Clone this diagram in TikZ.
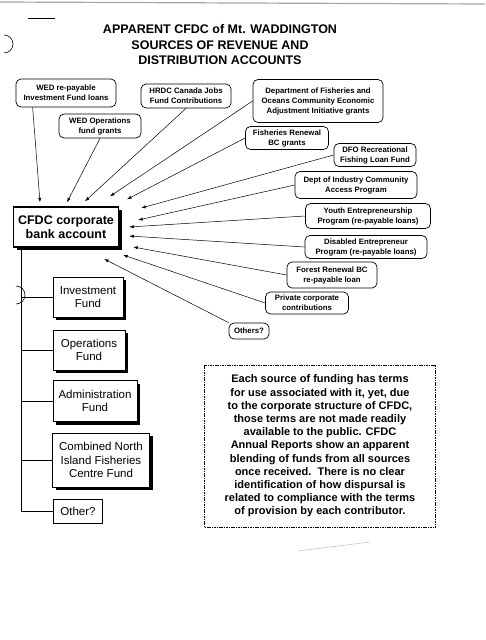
\documentclass[tikz,border=0pt]{standalone}
\usepackage{fontspec}
\setmainfont{Liberation Sans}
\usetikzlibrary{arrows.meta,calc,shadows}

\begin{document}
\begin{tikzpicture}[x=1pt,y=-1pt,>={Latex[length=4.5pt,width=3.2pt]},
  src/.style={draw,rounded corners=5pt,line width=0.7pt,align=center,inner sep=1pt,font=\bfseries\fontsize{7.8}{10}\selectfont},
  fund/.style={draw,line width=0.6pt,align=center,inner sep=2pt,fill=white,font=\fontsize{11.5}{13.5}\selectfont,drop shadow={shadow xshift=3pt,shadow yshift=-3pt,fill=black,opacity=1}},
  feed/.style={->,line width=0.5pt},
  branch/.style={line width=0.5pt}]
\fill[white] (0,0) rectangle (485,640);
\useasboundingbox (0,0) rectangle (485,640);
% scan marks
\draw[gray!70,line width=1.2pt] (0,2) -- (485,4);
\draw[line width=0.9pt] (28,18) -- (55,18);
\draw[line width=0.6pt] (4,53) arc[start angle=90,end angle=-90,radius=9];
\draw[line width=0.6pt] (16,304) arc[start angle=90,end angle=-90,radius=9];
\draw[gray!60,line width=0.4pt] (298,551) -- (370,542);
% title
\node[align=center,font=\bfseries\fontsize{12.5}{15.5}\selectfont] (title) at (220,45) {APPARENT CFDC of Mt. WADDINGTON\\SOURCES OF REVENUE AND\\DISTRIBUTION ACCOUNTS};
% sources
\node[src,minimum width=100pt,minimum height=28pt] (wedloan) at (66,93) {WED re-payable\\Investment Fund loans};
\node[src,minimum width=90pt,minimum height=24pt] (hrdc) at (186,96) {HRDC Canada Jobs\\Fund Contributions};
\node[src,minimum width=130pt,minimum height=43pt] (dfoecon) at (318,101) {Department of Fisheries and\\Oceans Community Economic\\Adjustment Initiative grants};
\node[src,minimum width=82pt,minimum height=24pt] (wedops) at (100,126) {WED Operations\\fund grants};
\node[src,minimum width=83pt,minimum height=23pt] (fishren) at (287,138) {Fisheries Renewal\\BC grants};
\node[src,minimum width=82pt,minimum height=23pt] (dforec) at (375,155) {DFO Recreational\\Fishing Loan Fund};
\node[src,minimum width=122pt,minimum height=27pt] (industry) at (356,185) {Dept of Industry Community\\Access Program};
\node[src,minimum width=125pt,minimum height=25pt] (youth) at (368,216) {Youth Entrepreneurship\\Program (re-payable loans)};
\node[src,minimum width=122pt,minimum height=23pt] (disabled) at (366,247) {Disabled Entrepreneur\\Program (re-payable loans)};
\node[src,minimum width=90pt,minimum height=26pt] (forest) at (332,275) {Forest Renewal BC\\re-payable loan};
\node[src,minimum width=83pt,minimum height=22pt] (private) at (307,303) {Private corporate\\contributions};
\node[src,minimum width=40pt,minimum height=16pt] (others) at (249,331) {Others?};
% bank account
\node[draw,line width=1.4pt,fill=white,align=center,minimum width=105pt,minimum height=40pt,font=\bfseries\fontsize{12.5}{14}\selectfont,drop shadow={shadow xshift=3pt,shadow yshift=-3pt,fill=black,opacity=1}] (bank) at (66,227) {CFDC corporate\\bank account};
% funds
\node[fund,minimum width=70pt,minimum height=40pt] (invest) at (88,297) {Investment\\Fund};
\node[fund,minimum width=72pt,minimum height=40pt] (ops) at (89,350) {Operations\\Fund};
\node[fund,minimum width=84pt,minimum height=41pt] (admin) at (95,401) {Administration\\Fund};
\node[fund,minimum width=97pt,minimum height=54pt] (combined) at (101,460) {Combined North\\Island Fisheries\\Centre Fund};
\node[draw,line width=0.6pt,inner sep=2pt,minimum width=49pt,minimum height=24pt,font=\fontsize{11.5}{13.5}\selectfont] (other) at (78,511) {Other?};
% note
\node[draw,line width=0.9pt,dash pattern=on 1.6pt off 0.8pt,align=center,minimum width=231pt,minimum height=162pt,font=\bfseries\fontsize{11}{13.2}\selectfont] (note) at (320,446) {Each source of funding has terms\\for use associated with it, yet, due\\to the corporate structure of CFDC,\\those terms are not made readily\\available to the public. CFDC\\Annual Reports show an apparent\\blending of funds from all sources\\once received.\ \ There is no clear\\identification of how dispursal is\\related to compliance with the terms\\of provision by each contributor.};
% flows into the bank account
\draw[feed] ($(wedloan.south west)+(17,0)$) -- ($(bank.north)+(-26,-4)$);
\draw[feed] (wedops.south) -- ($(bank.north)+(1,-4)$);
\draw[feed] (hrdc.south) -- ($(bank.north)+(19,-5)$);
\draw[feed] (dfoecon.west) -- ($(bank.north)+(44,-10)$);
\draw[feed] (fishren.west) -- ($(bank.north)+(61,-7)$);
\draw[feed] (dforec.west) -- ($(bank.east)+(22,-19)$);
\draw[feed] (industry.west) -- ($(bank.east)+(19,-7)$);
\draw[feed] (youth.west) -- ($(bank.east)+(10,0)$);
\draw[feed] (disabled.west) -- ($(bank.east)+(10,9)$);
\draw[feed] (forest.west) -- ($(bank.east)+(14,20)$);
\draw[feed] (private.west) -- ($(bank.east)+(4,28)$);
\draw[feed] (others.north west) -- ($(bank.east)+(-15,32)$);
% distribution
\coordinate (trunk) at ($(bank.south west)+(8,0)$);
\draw[branch] (trunk) |- (invest.west);
\draw[branch] (trunk) |- (ops.west);
\draw[branch] (trunk) |- (admin.west);
\draw[branch] (trunk) |- (combined.west);
\draw[branch] (trunk) |- (other.west);
\end{tikzpicture}
\end{document}
